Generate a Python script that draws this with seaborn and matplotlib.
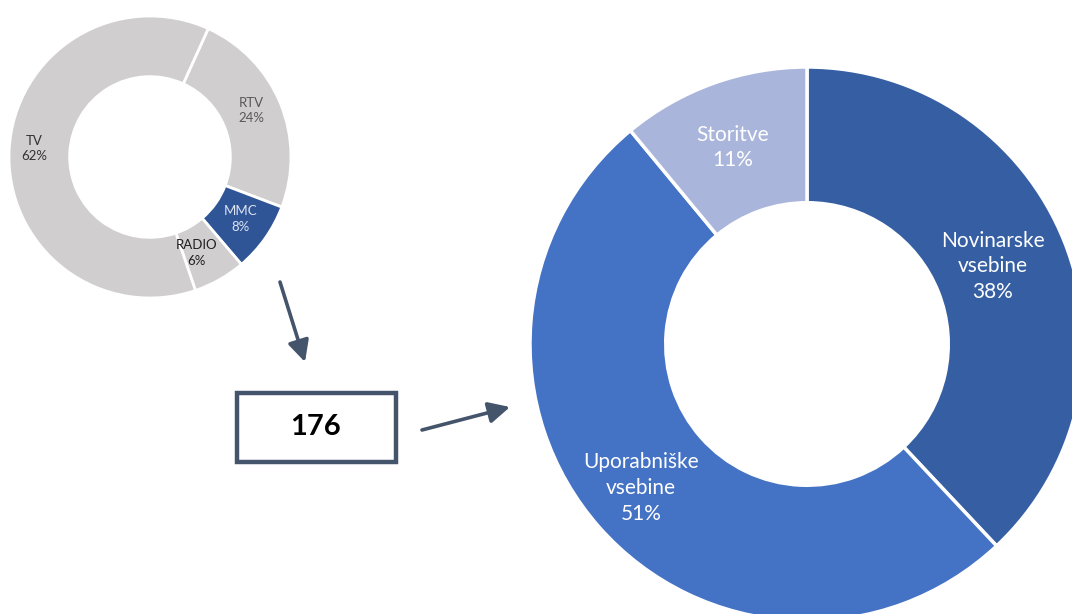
import matplotlib
matplotlib.use("Agg")
import matplotlib.pyplot as plt
from matplotlib.patches import Rectangle, FancyArrowPatch
import seaborn as sns

# --- data ---
small_labels = ["RTV", "MMC", "RADIO", "TV"]
small_values = [24, 8, 6, 62]
small_colors = ["#D0CECE", "#2F5597", "#D0CECE", "#D0CECE"]
small_text_colors = ["#595959", "#DDE4F2", "#1F1F1F", "#333333"]

big_labels = ["Novinarske\nvsebine", "Uporabniške\nvsebine", "Storitve"]
big_values = [38, 51, 11]
big_colors = ["#365FA3", "#4472C4", "#A9B5DA"]

total = 176

sns.set_theme(style="white")
plt.rcParams["font.family"] = ["Lato", "DejaVu Sans"]

W, H = 1072, 614
fig = plt.figure(figsize=(W / 100, H / 100), dpi=100)


def px_axes(cx, cy, r):
    # axes box in figure fractions for a circle centred at pixel (cx, cy)
    return fig.add_axes([(cx - r) / W, (H - cy - r) / H, 2 * r / W, 2 * r / H])


# small donut
ax1 = px_axes(150, 157, 141)
ax1.pie(small_values, colors=small_colors, startangle=65.6,
        counterclock=False, radius=1,
        wedgeprops=dict(width=0.43, edgecolor="white", linewidth=2))
small_pos = [(0.72, 0.33), (0.64, -0.44), (0.33, -0.68), (-0.82, 0.06)]
for lab, val, col, (x, y) in zip(small_labels, small_values, small_text_colors, small_pos):
    ax1.text(x, y, f"{lab}\n{val}%", ha="center", va="center", fontsize=9.5,
             color=col, linespacing=1.35)
ax1.set_xlim(-1, 1)
ax1.set_ylim(-1, 1)
ax1.axis("off")

# big donut
ax2 = px_axes(807, 344, 277)
ax2.pie(big_values, colors=big_colors, startangle=90, counterclock=False, radius=1,
        wedgeprops=dict(width=0.49, edgecolor="white", linewidth=2.5))
big_pos = [(0.67, 0.28), (-0.6, -0.52), (-0.27, 0.71)]
for lab, val, (x, y) in zip(big_labels, big_values, big_pos):
    ax2.text(x, y, f"{lab}\n{val}%", ha="center", va="center", fontsize=15,
             color="white", linespacing=1.35)
ax2.set_xlim(-1, 1)
ax2.set_ylim(-1, 1)
ax2.axis("off")

# overlay for box and arrows (pixel coordinates)
ov = fig.add_axes([0, 0, 1, 1], facecolor="none")
ov.set_xlim(0, W)
ov.set_ylim(H, 0)
ov.axis("off")

ov.add_patch(Rectangle((237, 393), 159, 69, fill=False, edgecolor="#44546A", linewidth=3.2))
ov.text(316, 427, str(total), ha="center", va="center", fontsize=21,
        fontweight="bold", color="black")

arrow_kw = dict(arrowstyle="-|>,head_length=8,head_width=4", color="#44546A",
                linewidth=2.6, mutation_scale=1.6, shrinkA=0, shrinkB=0)
ov.add_patch(FancyArrowPatch((280, 282), (305, 362), **arrow_kw))
ov.add_patch(FancyArrowPatch((422, 430), (510, 407), **arrow_kw))

fig.savefig("out.png", dpi=100)
